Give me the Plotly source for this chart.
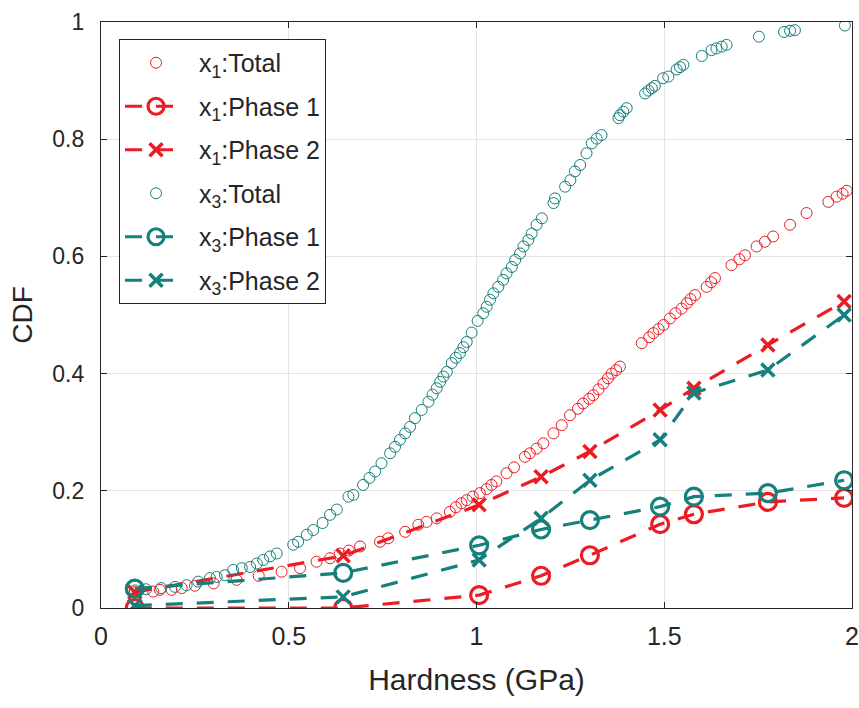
import plotly.graph_objects as go

# ---- data ----
phase_x = [0.09, 0.645, 1.007, 1.172, 1.302, 1.489, 1.579, 1.776, 1.979]
x1_phase1 = [0.0, 0.0, 0.022, 0.055, 0.09, 0.143, 0.16, 0.181, 0.188]
x1_phase2 = [0.027, 0.089, 0.176, 0.224, 0.267, 0.338, 0.375, 0.449, 0.523]
x3_phase1 = [0.033, 0.06, 0.107, 0.134, 0.15, 0.173, 0.19, 0.196, 0.218]
x3_phase2 = [0.004, 0.019, 0.082, 0.153, 0.218, 0.287, 0.367, 0.406, 0.5]

x1_total_x = [0.09, 0.139, 0.157, 0.188, 0.215, 0.25, 0.3, 0.361, 0.42, 0.481, 0.53, 0.574,
              0.61, 0.636, 0.66, 0.69, 0.743, 0.765, 0.81, 0.845, 0.867, 0.894, 0.929, 0.945,
              0.96, 0.974, 0.99, 1.009, 1.027, 1.04, 1.053, 1.08, 1.1, 1.129, 1.142, 1.16,
              1.178, 1.205, 1.227, 1.249, 1.27, 1.284, 1.3, 1.311, 1.325, 1.338, 1.35, 1.36,
              1.372, 1.382, 1.44, 1.46, 1.471, 1.485, 1.498, 1.515, 1.53, 1.546, 1.56, 1.57,
              1.582, 1.613, 1.625, 1.635, 1.679, 1.7, 1.715, 1.746, 1.768, 1.79, 1.835, 1.879,
              1.937, 1.959, 1.975, 1.986]
x1_total_y = [0.027, 0.028, 0.031, 0.031, 0.034, 0.038, 0.042, 0.048, 0.055, 0.062, 0.068, 0.079,
              0.085, 0.093, 0.098, 0.105, 0.113, 0.119, 0.13, 0.142, 0.147, 0.153, 0.164, 0.172,
              0.179, 0.184, 0.19, 0.196, 0.203, 0.21, 0.216, 0.23, 0.24, 0.258, 0.264, 0.272,
              0.281, 0.298, 0.312, 0.329, 0.34, 0.349, 0.357, 0.363, 0.373, 0.383, 0.392, 0.4,
              0.406, 0.412, 0.452, 0.462, 0.469, 0.476, 0.483, 0.494, 0.503, 0.511, 0.52, 0.527,
              0.534, 0.548, 0.556, 0.563, 0.585, 0.595, 0.602, 0.617, 0.625, 0.634, 0.654, 0.674,
              0.693, 0.702, 0.707, 0.712]

x3_total_x = [0.09, 0.12, 0.16, 0.197, 0.228, 0.259, 0.29, 0.308, 0.33, 0.352, 0.375, 0.397,
              0.415, 0.432, 0.45, 0.468, 0.512, 0.525, 0.548, 0.565, 0.59, 0.61, 0.628, 0.659,
              0.672, 0.698, 0.715, 0.73, 0.747, 0.77, 0.783, 0.796, 0.81, 0.823, 0.836, 0.854,
              0.872, 0.883, 0.894, 0.903, 0.912, 0.921, 0.934, 0.945, 0.956, 0.965, 0.974, 0.987,
              1.003, 1.018, 1.027, 1.036, 1.045, 1.058, 1.071, 1.08, 1.094, 1.103, 1.116, 1.125,
              1.138, 1.147, 1.16, 1.174, 1.205, 1.209, 1.236, 1.25, 1.262, 1.276, 1.293, 1.307,
              1.32, 1.333, 1.378, 1.382, 1.391, 1.4, 1.449, 1.458, 1.467, 1.475, 1.497, 1.511,
              1.533, 1.542, 1.551, 1.6, 1.626, 1.639, 1.653, 1.666, 1.752, 1.819, 1.835, 1.848,
              1.981]
x3_total_y = [0.03, 0.032, 0.034, 0.036, 0.039, 0.045, 0.051, 0.053, 0.056, 0.065, 0.068, 0.07,
              0.076, 0.082, 0.088, 0.093, 0.108, 0.113, 0.125, 0.133, 0.145, 0.159, 0.168, 0.19,
              0.193, 0.21, 0.222, 0.233, 0.247, 0.264, 0.275, 0.287, 0.298, 0.309, 0.324, 0.338,
              0.352, 0.364, 0.375, 0.386, 0.395, 0.403, 0.418, 0.427, 0.435, 0.445, 0.454, 0.47,
              0.49, 0.503, 0.514, 0.526, 0.537, 0.548, 0.56, 0.571, 0.582, 0.594, 0.605, 0.617,
              0.628, 0.639, 0.654, 0.665, 0.691, 0.699, 0.719, 0.73, 0.745, 0.756, 0.776, 0.793,
              0.801, 0.807, 0.836, 0.841, 0.847, 0.853, 0.878, 0.883, 0.887, 0.891, 0.904, 0.907,
              0.919, 0.923, 0.927, 0.942, 0.952, 0.955, 0.958, 0.961, 0.975, 0.983, 0.985, 0.986,
              0.994]

x_ticks = [0, 0.5, 1, 1.5, 2]
x_tick_labels = ["0", "0.5", "1", "1.5", "2"]
y_ticks = [0, 0.2, 0.4, 0.6, 0.8, 1]
y_tick_labels = ["0", "0.2", "0.4", "0.6", "0.8", "1"]

RED = "#EC1C24"
TEAL = "#15807C"
FONT = "Liberation Sans, Arial, sans-serif"
DASH = "17px,14px"
NB = "\u00a0"

fig = go.Figure()

fig.add_trace(go.Scatter(
    x=x1_total_x, y=x1_total_y, mode="markers", name=NB + "x<sub>1</sub>:Total",
    legendgroup="a",
    marker=dict(symbol="circle-open", size=11, color=RED, line=dict(width=1, color=RED))))
fig.add_trace(go.Scatter(
    x=phase_x, y=x1_phase1, mode="lines+markers", name=NB + "x<sub>1</sub>:Phase 1",
    legendgroup="b",
    line=dict(color=RED, width=3.2, dash=DASH),
    marker=dict(symbol="circle-open", size=17, color=RED, line=dict(width=3.2, color=RED))))
fig.add_trace(go.Scatter(
    x=phase_x, y=x1_phase2, mode="lines+markers", name=NB + "x<sub>1</sub>:Phase 2",
    legendgroup="c",
    line=dict(color=RED, width=3.2, dash=DASH),
    marker=dict(symbol="x-thin", size=13, color=RED, line=dict(width=3.5, color=RED))))
fig.add_trace(go.Scatter(
    x=x3_total_x, y=x3_total_y, mode="markers", name=NB + "x<sub>3</sub>:Total",
    legendgroup="d",
    marker=dict(symbol="circle-open", size=11, color=TEAL, line=dict(width=1, color=TEAL))))
fig.add_trace(go.Scatter(
    x=phase_x, y=x3_phase1, mode="lines+markers", name=NB + "x<sub>3</sub>:Phase 1",
    legendgroup="e",
    line=dict(color=TEAL, width=3.2, dash=DASH),
    marker=dict(symbol="circle-open", size=17, color=TEAL, line=dict(width=3.2, color=TEAL))))
fig.add_trace(go.Scatter(
    x=phase_x, y=x3_phase2, mode="lines+markers", name=NB + "x<sub>3</sub>:Phase 2",
    legendgroup="f",
    line=dict(color=TEAL, width=3.2, dash=DASH),
    marker=dict(symbol="x-thin", size=13, color=TEAL, line=dict(width=3.5, color=TEAL))))

axis_common = dict(
    showline=True, linecolor="#262626", linewidth=1.2, mirror="ticks",
    ticks="inside", ticklen=6, tickcolor="#262626", tickwidth=1,
    showgrid=True, gridcolor="#E4E4E4", gridwidth=1, zeroline=False,
    automargin=False,
)

fig.update_layout(
    width=859, height=708,
    margin=dict(l=101, r=7, t=22, b=100),
    paper_bgcolor="white", plot_bgcolor="white",
    font=dict(family=FONT, color="#262626"),
    xaxis=dict(range=[0, 2], tickvals=x_ticks, ticktext=x_tick_labels,
               tickfont=dict(family=FONT, size=25, color="#262626"), ticklabelstandoff=6,
               title=dict(text="Hardness (GPa)", font=dict(family=FONT, size=30, color="#262626"), standoff=19),
               **axis_common),
    yaxis=dict(range=[0, 1], tickvals=y_ticks, ticktext=y_tick_labels,
               tickfont=dict(family=FONT, size=23, color="#262626"), ticklabelstandoff=11,
               title=dict(text="CDF", font=dict(family=FONT, size=28, color="#262626"), standoff=11),
               **axis_common),
    legend=dict(x=0.024, y=0.971, xanchor="left", yanchor="top",
                bgcolor="white", bordercolor="#262626", borderwidth=1,
                font=dict(family=FONT, size=25, color="#262626"),
                tracegroupgap=8, itemwidth=62),
    showlegend=True,
)

fig.write_html("out.html")
